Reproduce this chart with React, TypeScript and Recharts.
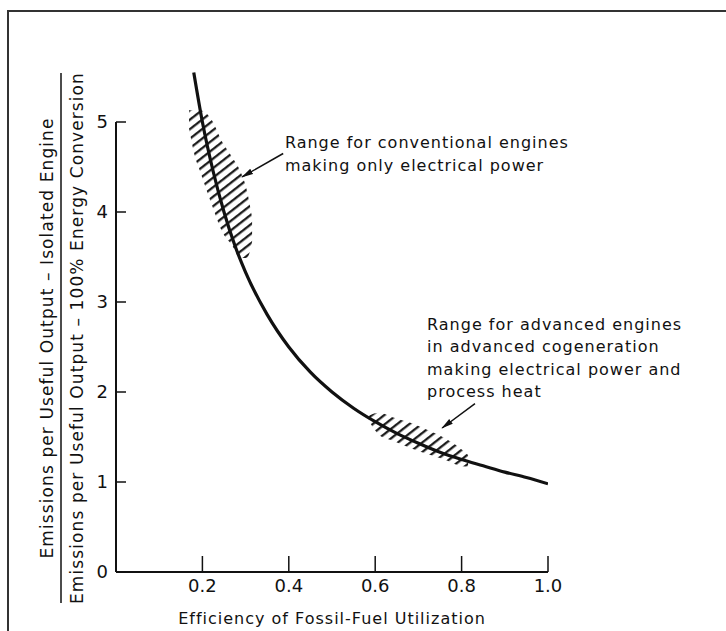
import { ComposedChart, Line, Area, XAxis, YAxis, ReferenceLine, ReferenceDot, Label } from "recharts";

// the curve
const curveX = [0.18, 0.2, 0.225, 0.25, 0.275, 0.3, 0.35, 0.4, 0.45, 0.5, 0.55, 0.6, 0.65, 0.7, 0.75, 0.8, 0.85, 0.9, 0.95, 1.0];
const curveY = [5.55, 5.0, 4.45, 4.0, 3.63, 3.33, 2.86, 2.5, 2.22, 2.0, 1.82, 1.67, 1.54, 1.43, 1.33, 1.25, 1.18, 1.11, 1.05, 0.98];

// hatched band: conventional engines
const hatch1X = [0.169, 0.183, 0.194, 0.218, 0.248, 0.27, 0.287, 0.303, 0.315];
const hatch1Lo = [4.93, 4.61, 4.46, 4.13, 3.76, 3.62, 3.49, 3.49, 3.67];
const hatch1Hi = [5.13, 5.13, 5.13, 5.05, 4.76, 4.6, 4.46, 4.24, 3.94];

// hatched band: advanced cogeneration
const hatch2X = [0.585, 0.61, 0.64, 0.68, 0.72, 0.76, 0.79, 0.815];
const hatch2Lo = [1.68, 1.52, 1.46, 1.38, 1.31, 1.25, 1.19, 1.17];
const hatch2Hi = [1.74, 1.77, 1.72, 1.66, 1.58, 1.49, 1.4, 1.3];

const xTicks = [0.2, 0.4, 0.6, 0.8, 1.0];
const yTicks = [0, 1, 2, 3, 4, 5];

const xTitle = "Efficiency of Fossil-Fuel Utilization";
const yNumerator = "Emissions per Useful Output \u2013 Isolated Engine";
const yDenominator = "Emissions per Useful Output \u2013 100% Energy Conversion";

const note1 = ["Range for conventional engines", "making only electrical power"];
const note2 = ["Range for advanced engines", "in advanced cogeneration", "making electrical power and", "process heat"];

const FONT = "'DejaVu Sans', sans-serif";
const INK = "#111";

function YFraction(props: any) {
  const vb = props.viewBox;
  const cy = vb.y + vb.height / 2 + 27;
  const txt = { fontFamily: FONT, fontSize: 17, letterSpacing: 1.1, fill: INK, textAnchor: "middle" as const };
  return (
    <g>
      <text transform={`translate(${vb.x + 53},${cy}) rotate(-90)`} {...txt}>{yNumerator}</text>
      <line x1={vb.x + 61} x2={vb.x + 61} y1={cy - 265} y2={cy + 265} stroke={INK} strokeWidth={1.5} />
      <text transform={`translate(${vb.x + 83},${cy}) rotate(-90)`} {...txt}>{yDenominator}</text>
    </g>
  );
}

function noteShape(lines: string[]) {
  return (p: any) => (
    <text x={p.cx} y={p.cy} fontFamily={FONT} fontSize={16} letterSpacing={1} fill={INK}>
      {lines.map((l, i) => (
        <tspan key={i} x={p.cx} dy={i === 0 ? 0 : 22.5}>{l}</tspan>
      ))}
    </text>
  );
}

const arrowShape = (p: any) => (
  <line x1={p.x1} y1={p.y1} x2={p.x2} y2={p.y2} stroke={INK} strokeWidth={1.5} markerEnd="url(#arrowHead)" />
);

export default function App() {
  const curve = curveX.map((x, i) => ({ x, y: curveY[i] }));
  const band1 = hatch1X.map((x, i) => ({ x, r: [hatch1Lo[i], hatch1Hi[i]] }));
  const band2 = hatch2X.map((x, i) => ({ x, r: [hatch2Lo[i], hatch2Hi[i]] }));

  return (
    <div style={{ position: "absolute", left: 0, top: 0, width: 726, height: 631, background: "#fff" }}>
      <div
        style={{
          position: "absolute",
          left: 7,
          top: 10,
          right: 0,
          bottom: 0,
          borderTop: "2px solid #333",
          borderLeft: "2px solid #333",
        }}
      />
      <div style={{ position: "absolute", left: 0, top: 0 }}>
        <ComposedChart width={726} height={631} margin={{ top: 50, right: 178, bottom: 29, left: 0 }}>
          <defs>
            <pattern id="hatch" width={7.5} height={20} patternUnits="userSpaceOnUse" patternTransform="rotate(52)">
              <line x1={1.2} y1={0} x2={1.2} y2={20} stroke={INK} strokeWidth={2.2} />
            </pattern>
            <marker id="arrowHead" markerWidth={12} markerHeight={8} refX={11} refY={4} orient="auto" markerUnits="userSpaceOnUse">
              <path d="M0,1 L12,4 L0,7 Z" fill={INK} />
            </marker>
          </defs>
          <XAxis
            type="number"
            dataKey="x"
            domain={[0, 1]}
            ticks={xTicks}
            tickFormatter={(v: number) => v.toFixed(1)}
            allowDataOverflow
            height={30}
            axisLine={{ stroke: INK, strokeWidth: 2 }}
            tickLine={{ stroke: INK, strokeWidth: 1.5 }}
            tickSize={-16}
            tickMargin={23}
            tick={{ fill: INK, fontSize: 18, fontFamily: FONT }}
          >
            <Label value={xTitle} position="bottom" offset={11} fill={INK} fontSize={16} fontFamily={FONT} letterSpacing={1} />
          </XAxis>
          <YAxis
            type="number"
            domain={[0, 5.8]}
            ticks={yTicks}
            allowDataOverflow
            width={116}
            axisLine={false}
            tickLine={{ stroke: INK, strokeWidth: 1.5 }}
            tickSize={-10}
            tickMargin={18}
            tick={{ fill: INK, fontSize: 18, fontFamily: FONT }}
          >
            <Label content={YFraction} />
          </YAxis>
          <ReferenceLine segment={[{ x: 0, y: 0 }, { x: 0, y: 5 }]} stroke={INK} strokeWidth={2} ifOverflow="visible" />
          <Area data={band1} dataKey="r" type="monotone" stroke="none" fill="url(#hatch)" fillOpacity={1} isAnimationActive={false} />
          <Area data={band2} dataKey="r" type="monotone" stroke="none" fill="url(#hatch)" fillOpacity={1} isAnimationActive={false} />
          <Line data={curve} dataKey="y" type="monotone" stroke={INK} strokeWidth={3.2} dot={false} isAnimationActive={false} />
          <ReferenceLine segment={[{ x: 0.387, y: 4.65 }, { x: 0.292, y: 4.39 }]} shape={arrowShape} ifOverflow="visible" />
          <ReferenceLine segment={[{ x: 0.831, y: 1.87 }, { x: 0.755, y: 1.6 }]} shape={arrowShape} ifOverflow="visible" />
          <ReferenceDot x={0.391} y={4.71} r={0} shape={noteShape(note1)} ifOverflow="visible" />
          <ReferenceDot x={0.72} y={2.69} r={0} shape={noteShape(note2)} ifOverflow="visible" />
        </ComposedChart>
      </div>
    </div>
  );
}
